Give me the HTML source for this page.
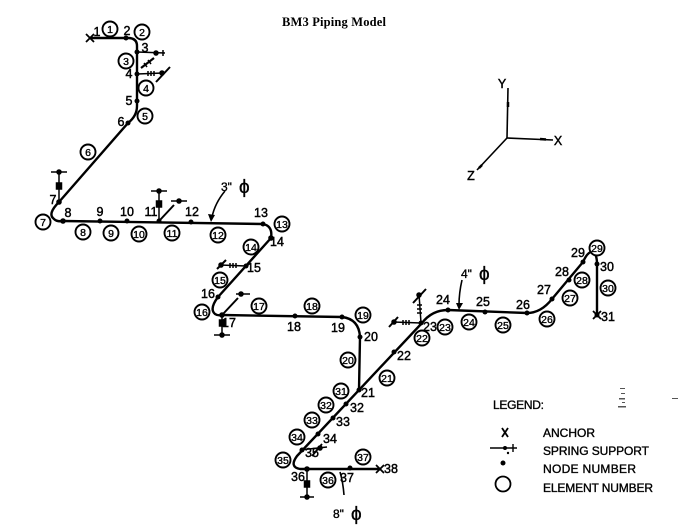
<!DOCTYPE html>
<html><head><meta charset="utf-8"><style>
html,body{margin:0;padding:0;background:#fff;}
svg{display:block;}
.t{font-family:"Liberation Sans Narrow","Liberation Sans",sans-serif;font-size:12.5px;fill:#000;stroke:#000;stroke-width:0.45;text-anchor:middle;}
.c{font-family:"Liberation Sans Narrow","Liberation Sans",sans-serif;font-size:10.5px;fill:#000;stroke:#000;stroke-width:0.35;text-anchor:middle;}
.lg{font-family:"Liberation Sans Narrow","Liberation Sans",sans-serif;font-size:12px;fill:#000;stroke:#000;stroke-width:0.35;}
</style></head><body>
<svg width="689" height="525" viewBox="0 0 689 525" xmlns="http://www.w3.org/2000/svg">
<rect width="689" height="525" fill="#fff"/>
<text x="334" y="26" text-anchor="middle" font-family="Liberation Serif, serif" font-weight="bold" font-size="12.5" textLength="104">BM3 Piping Model</text>

<g fill="none" stroke="#000" stroke-width="2.4" stroke-linejoin="round">
<path d="M90,38 L128,38 Q137,38 137,46 L137,106 Q137,116 128,123 L59,202 Q47,214 54,219 Q57,222 63,221 L263,224 Q273,226 271,238 L218,297 Q209,309 215,314 Q218,316 222,315 L342,317 Q359,319 360,337 L359,390"/>
<path d="M597,315 L597,264 Q597,252 591,252 Q587,253 583,262 L552,299 Q541,313 527,313 L448,310 Q432,310 422,323 L297,456 Q289,467 300,469 L380,469"/>
</g>

<!-- anchors -->
<g stroke="#000" stroke-width="1.8">
<line x1="86" y1="34" x2="94" y2="42"/><line x1="86" y1="42" x2="94" y2="34"/>
<line x1="593" y1="311" x2="601" y2="319"/><line x1="593" y1="319" x2="601" y2="311"/>
<line x1="376" y1="465" x2="384" y2="473"/><line x1="376" y1="473" x2="384" y2="465"/>
</g>

<!-- supports -->
<g stroke="#000" stroke-width="1.5" fill="#000">
<line x1="137" y1="52" x2="165" y2="53"/><circle cx="156" cy="53" r="2"/><line x1="163" y1="50" x2="163" y2="56"/>
<line x1="141" y1="68" x2="154" y2="58" stroke-width="2.2"/>
<line x1="144" y1="63" x2="147" y2="67"/><line x1="148" y1="60" x2="151" y2="64"/>
<line x1="137" y1="74" x2="163" y2="73"/>
<line x1="148" y1="71" x2="148" y2="76"/><line x1="151" y1="71" x2="151" y2="76"/><line x1="154" y1="71" x2="154" y2="76"/>
<line x1="156" y1="82" x2="170" y2="67" stroke-width="2"/><circle cx="162" cy="73" r="2"/>
<line x1="59" y1="202" x2="59" y2="172"/><rect x="56.5" y="183" width="5" height="6"/>
<line x1="51" y1="172" x2="67" y2="172"/><circle cx="59" cy="172" r="2"/>
<line x1="159" y1="221" x2="159" y2="191"/><rect x="156.5" y="201" width="5" height="6"/>
<line x1="151" y1="191" x2="167" y2="191"/><circle cx="159" cy="191" r="2"/>
<line x1="160" y1="220" x2="174" y2="205" stroke-width="2"/>
<line x1="171" y1="201" x2="187" y2="201"/><circle cx="179" cy="201" r="2"/>
<line x1="246" y1="266" x2="220" y2="265"/>
<line x1="230" y1="263" x2="230" y2="268"/><line x1="233" y1="263" x2="233" y2="268"/><line x1="236" y1="263" x2="236" y2="268"/>
<line x1="217" y1="269" x2="226" y2="260" stroke-width="2"/><circle cx="221" cy="265" r="2"/>
<line x1="222" y1="315" x2="222" y2="335"/><rect x="219.5" y="320" width="5" height="6"/>
<line x1="214" y1="335" x2="230" y2="335"/><circle cx="222" cy="335" r="2"/>
<line x1="223" y1="314" x2="238" y2="298" stroke-width="2"/>
<line x1="236" y1="294" x2="250" y2="294"/><circle cx="241" cy="294" r="2"/>
<line x1="421" y1="323" x2="419" y2="294"/>
<line x1="417" y1="305" x2="422" y2="305"/><line x1="417" y1="309" x2="422" y2="309"/><line x1="417" y1="313" x2="422" y2="313"/>
<line x1="413" y1="303" x2="426" y2="289" stroke-width="2"/><circle cx="419" cy="295" r="2"/>
<line x1="421" y1="323" x2="393" y2="322"/>
<line x1="403" y1="320" x2="403" y2="325"/><line x1="406" y1="320" x2="406" y2="325"/><line x1="409" y1="320" x2="409" y2="325"/>
<line x1="389" y1="327" x2="398" y2="317" stroke-width="2"/><circle cx="394" cy="322" r="2"/>
<line x1="300" y1="450" x2="327" y2="447"/><circle cx="320" cy="448" r="2"/>
<line x1="312" y1="456" x2="322" y2="444" stroke-width="1.8"/>
<line x1="307" y1="470" x2="307" y2="497"/><rect x="304.5" y="481" width="5" height="6"/>
<line x1="300" y1="497" x2="314" y2="497"/><circle cx="307" cy="497" r="2"/>
</g>

<!-- node dots -->
<g fill="#000">
<circle cx="126" cy="38" r="2.5"/><circle cx="137" cy="52" r="2.5"/><circle cx="137" cy="74" r="2.5"/>
<circle cx="137" cy="101" r="2.5"/><circle cx="128" cy="123" r="2.5"/><circle cx="59" cy="202" r="2.8"/>
<circle cx="63" cy="221" r="2.8"/><circle cx="100" cy="221" r="2.5"/><circle cx="127" cy="221" r="2.5"/>
<circle cx="159" cy="221" r="2.5"/><circle cx="191" cy="222" r="2.5"/><circle cx="263" cy="224" r="2.5"/>
<circle cx="271" cy="238" r="2.8"/><circle cx="246" cy="266" r="2.5"/><circle cx="218" cy="297" r="2.5"/>
<circle cx="222" cy="315" r="2.8"/><circle cx="295" cy="316" r="2.5"/><circle cx="342" cy="317" r="2.5"/>
<circle cx="360" cy="337" r="2.5"/><circle cx="359" cy="390" r="2.5"/><circle cx="394" cy="352" r="2.5"/>
<circle cx="421" cy="323" r="2.5"/><circle cx="448" cy="310" r="2.5"/><circle cx="485" cy="312" r="2.5"/>
<circle cx="527" cy="313" r="2.5"/><circle cx="552" cy="299" r="2.5"/><circle cx="569" cy="280" r="2.5"/>
<circle cx="583" cy="262" r="2.5"/><circle cx="597" cy="264" r="2.5"/><circle cx="597" cy="315" r="2.5"/>
<circle cx="346" cy="404" r="2.5"/><circle cx="333" cy="418" r="2.5"/><circle cx="318" cy="434" r="2.5"/>
<circle cx="302" cy="450" r="2.5"/><circle cx="307" cy="469" r="2.8"/><circle cx="350" cy="468" r="2.5"/>
</g>

<!-- node labels -->
<g class="t">
<text x="97" y="36">1</text><text x="127" y="35">2</text><text x="145" y="52">3</text>
<text x="129" y="78">4</text><text x="129" y="105">5</text><text x="121" y="126">6</text>
<text x="53" y="204">7</text><text x="68" y="217">8</text><text x="100" y="216">9</text>
<text x="127" y="216">10</text><text x="151" y="216">11</text><text x="192" y="216">12</text>
<text x="261" y="217">13</text><text x="277" y="246">14</text><text x="254" y="272">15</text>
<text x="208" y="298">16</text><text x="229" y="327">17</text><text x="294" y="331">18</text>
<text x="338" y="332">19</text><text x="371" y="341">20</text><text x="368" y="397">21</text>
<text x="404" y="360">22</text><text x="430" y="331">23</text><text x="443" y="304">24</text>
<text x="483" y="306">25</text><text x="523" y="309">26</text><text x="544" y="294">27</text>
<text x="562" y="276">28</text><text x="578" y="257">29</text><text x="607" y="271">30</text>
<text x="608" y="321">31</text><text x="357" y="412">32</text><text x="343" y="426">33</text>
<text x="330" y="443">34</text><text x="312" y="457">35</text><text x="298" y="481">36</text>
<text x="347" y="482">37</text><text x="391" y="473">38</text>
</g>

<!-- element circles -->
<g fill="#fff" stroke="#000" stroke-width="1.9">
<circle cx="110" cy="29" r="7.5"/><circle cx="142" cy="32" r="7.5"/><circle cx="126" cy="61" r="7.5"/>
<circle cx="146" cy="88" r="7.5"/><circle cx="145" cy="116" r="7.5"/><circle cx="88" cy="152" r="7.5"/>
<circle cx="43" cy="222" r="7.5"/><circle cx="83" cy="232" r="7.5"/><circle cx="111" cy="233" r="7.5"/>
<circle cx="139" cy="234" r="7.5"/><circle cx="172" cy="233" r="7.5"/><circle cx="218" cy="235" r="7.5"/>
<circle cx="282" cy="224" r="7.5"/><circle cx="251" cy="247" r="7.5"/><circle cx="220" cy="280" r="7.5"/>
<circle cx="202" cy="312" r="7.5"/><circle cx="259" cy="306" r="7.5"/><circle cx="312" cy="306" r="7.5"/>
<circle cx="363" cy="315" r="7.5"/><circle cx="348" cy="360" r="7.5"/><circle cx="387" cy="378" r="7.5"/>
<circle cx="422" cy="338" r="7.5"/><circle cx="445" cy="327" r="7.5"/><circle cx="469" cy="322" r="7.5"/>
<circle cx="503" cy="325" r="7.5"/><circle cx="547" cy="319" r="7.5"/><circle cx="570" cy="298" r="7.5"/>
<circle cx="582" cy="280" r="7.5"/><circle cx="597" cy="248" r="7.5"/><circle cx="608" cy="288" r="7.5"/>
<circle cx="341" cy="391" r="7.5"/><circle cx="326" cy="405" r="7.5"/><circle cx="312" cy="420" r="7.5"/>
<circle cx="297" cy="437" r="7.5"/><circle cx="283" cy="460" r="7.5"/><circle cx="328" cy="480" r="7.5"/>
<circle cx="363" cy="457" r="7.5"/>
</g>
<g class="c">
<text x="110" y="33">1</text><text x="142" y="36">2</text><text x="126" y="65">3</text>
<text x="146" y="92">4</text><text x="145" y="120">5</text><text x="88" y="156">6</text>
<text x="43" y="226">7</text><text x="83" y="236">8</text><text x="111" y="237">9</text>
<text x="139" y="238">10</text><text x="172" y="237">11</text><text x="218" y="239">12</text>
<text x="282" y="228">13</text><text x="251" y="251">14</text><text x="220" y="284">15</text>
<text x="202" y="316">16</text><text x="259" y="310">17</text><text x="312" y="310">18</text>
<text x="363" y="319">19</text><text x="348" y="364">20</text><text x="387" y="382">21</text>
<text x="422" y="342">22</text><text x="445" y="331">23</text><text x="469" y="326">24</text>
<text x="503" y="329">25</text><text x="547" y="323">26</text><text x="570" y="302">27</text>
<text x="582" y="284">28</text><text x="597" y="252">29</text><text x="608" y="292">30</text>
<text x="341" y="395">31</text><text x="326" y="409">32</text><text x="312" y="424">33</text>
<text x="297" y="441">34</text><text x="283" y="464">35</text><text x="328" y="484">36</text>
<text x="363" y="461">37</text>
</g>

<!-- pipe size callouts -->
<g fill="none" stroke="#000" stroke-width="1.6">
<path d="M225,191 Q215,203 212,217"/>
<path d="M462,280 Q459,293 459,305"/>
<path d="M344,495 Q343,482 340,472"/>
</g>
<g fill="#000">
<polygon points="208,214 215,215 211,222"/>
<polygon points="456,303 463,303 459,310"/>
</g>
<g class="lg" font-size="16">
<text x="221" y="191">3"</text><text x="239" y="193" font-size="19">ϕ</text>
<text x="461" y="278">4"</text><text x="479" y="280" font-size="19">ϕ</text>
<text x="333" y="518">8"</text><text x="351" y="520" font-size="19">ϕ</text>
</g>

<!-- axes -->
<g stroke="#000" stroke-width="1.6" fill="none">
<line x1="507" y1="138" x2="508" y2="88"/>
<line x1="507" y1="138" x2="553" y2="140"/>
<line x1="507" y1="138" x2="477" y2="170"/>
<line x1="508" y1="102" x2="508" y2="107" stroke-width="2.5"/>
<line x1="540" y1="139" x2="546" y2="139.5" stroke-width="2.5"/>
<line x1="482" y1="165" x2="479" y2="168" stroke-width="2.5"/>
</g>
<text x="502" y="88" class="t">Y</text>
<text x="558" y="145" class="t">X</text>
<text x="471" y="180" class="t">Z</text>

<!-- legend -->
<text x="493" y="409" class="lg" textLength="51">LEGEND:</text>
<g stroke="#000" stroke-width="1.8">
<line x1="502" y1="428" x2="508" y2="437"/><line x1="508" y1="428" x2="502" y2="437"/>
<line x1="490" y1="448" x2="517" y2="448" stroke-width="1.4"/>
<line x1="513" y1="444" x2="513" y2="452" stroke-width="1.4"/>
</g>
<circle cx="505" cy="448" r="2" fill="#000"/>
<circle cx="508" cy="453" r="1.2" fill="#000"/>
<circle cx="503" cy="463" r="2.5" fill="#000"/>
<circle cx="503" cy="484" r="7.5" fill="none" stroke="#000" stroke-width="1.8"/>
<text x="543" y="437" class="lg" textLength="52">ANCHOR</text>
<text x="543" y="455" class="lg" textLength="106">SPRING SUPPORT</text>
<text x="543" y="473" class="lg" textLength="93">NODE NUMBER</text>
<text x="543" y="492" class="lg" textLength="110">ELEMENT NUMBER</text>

<!-- scan marks -->
<g fill="#555">
<rect x="620" y="388" width="5" height="1"/><rect x="621" y="393" width="4" height="1"/>
<rect x="619" y="398" width="6" height="1.5"/><rect x="622" y="402" width="3" height="1"/>
<rect x="618" y="406" width="8" height="1.5"/><rect x="672" y="398" width="6" height="1"/>
</g>
</svg>
</body></html>
